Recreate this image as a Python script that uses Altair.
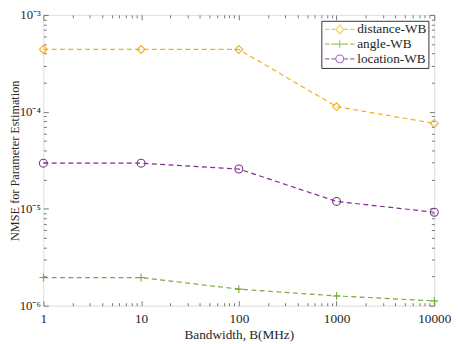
import altair as alt
import pandas as pd

# ---- data ----
bandwidth = [1, 10, 100, 1000, 10000]
series = ["distance-WB", "angle-WB", "location-WB"]
distance_wb = [4.4e-4, 4.4e-4, 4.4e-4, 1.13e-4, 7.6e-5]
angle_wb = [1.95e-6, 1.95e-6, 1.48e-6, 1.26e-6, 1.12e-6]
location_wb = [2.95e-5, 2.95e-5, 2.57e-5, 1.19e-5, 9.2e-6]
colors = ["#EDB120", "#77AC30", "#7E2F8E"]

x_major = [1, 10, 100, 1000, 10000]
x_minor = [m * 10 ** k for k in range(4) for m in range(2, 10)]
y_major = [1e-6, 1e-5, 1e-4, 1e-3]
y_minor = [m * 10.0 ** k for k in (-6, -5, -4) for m in range(2, 10)]

rows = []
for name, vals in zip(series, [distance_wb, angle_wb, location_wb]):
    for b, v in zip(bandwidth, vals):
        rows.append({"series": name, "B": b, "v": v})
df = pd.DataFrame(rows)

FONT = "Liberation Serif"
TXT = "#262626"
AX = "#555555"
W, H = 398, 296

xscale = alt.Scale(type="log", domain=[1, 10000], nice=False)
yscale = alt.Scale(type="log", domain=[1e-6, 1e-3], nice=False)
cscale = alt.Scale(domain=series, range=colors)
shape_scale = alt.Scale(domain=series, range=["diamond", "M-1,0H1M0,-1V1", "circle"])

ylabel_expr = ("datum.value > 5e-4 ? '10⁻³' : datum.value > 5e-5 ? '10⁻⁴' : "
               "datum.value > 5e-6 ? '10⁻⁵' : '10⁻⁶'")


def xaxis(orient, major):
    kw = dict(orient=orient, domain=False, grid=False, tickColor=AX, tickWidth=0.8)
    if major:
        kw.update(values=x_major, tickSize=5, offset=-5)
    else:
        kw.update(values=x_minor, tickSize=3, offset=-3)
    if orient == "bottom" and major:
        kw.update(labels=True, format="d", labelFont=FONT, labelFontSize=13.5,
                  labelColor=TXT, labelPadding=6, title="Bandwidth, B(MHz)",
                  titleFont=FONT, titleFontSize=13.5, titleFontWeight="normal",
                  titleColor=TXT, titlePadding=3, labelFlush=False)
    else:
        kw.update(labels=False, title=None)
    return alt.Axis(**kw)


def yaxis(orient, major):
    kw = dict(orient=orient, domain=False, grid=False, tickColor=AX, tickWidth=0.8)
    if major:
        kw.update(values=y_major, tickSize=5, offset=-5)
    else:
        kw.update(values=y_minor, tickSize=3, offset=-3)
    if orient == "left" and major:
        kw.update(labels=True, labelExpr=ylabel_expr, labelFont=FONT, labelFontSize=13,
                  labelColor=TXT, labelPadding=3, title="NMSE for Parameter Estimation",
                  titleFont=FONT, titleFontSize=12.5, titleFontWeight="normal",
                  titleColor=TXT, titleX=-34, titleY=H / 2, titleAngle=270,
                  titleBaseline="middle", titleAlign="center", labelFlush=False)
    else:
        kw.update(labels=False, title=None)
    return alt.Axis(**kw)


base = alt.Chart(df)

lines = base.mark_line(strokeDash=[5, 3.5], strokeWidth=1.2).encode(
    x=alt.X("B:Q", scale=xscale, axis=xaxis("bottom", True)),
    y=alt.Y("v:Q", scale=yscale, axis=yaxis("left", True)),
    color=alt.Color("series:N", scale=cscale, legend=None),
    detail="series:N",
)

points = base.mark_point(filled=False, size=64, strokeWidth=1.1, opacity=1).encode(
    x=alt.X("B:Q", scale=xscale, axis=xaxis("bottom", False)),
    y=alt.Y("v:Q", scale=yscale, axis=yaxis("left", False)),
    color=alt.Color("series:N", scale=cscale, legend=None),
    shape=alt.Shape("series:N", scale=shape_scale, legend=None),
)

sym_expr = (
    "datum.value == 'distance-WB' ? "
    "'M-1,0H-0.1M0.3,0H1.15M2,-0.9L2.8,0L2,0.9L1.2,0ZM2.85,0H3.7M4.1,0H5' : "
    "datum.value == 'angle-WB' ? "
    "'M-1,0H-0.1M0.3,0H3.7M4.1,0H5M2,-0.8V0.8' : "
    "'M-1,0H-0.1M0.3,0H1.2M2.8,0A0.8,0.8 0 1 1 1.2,0A0.8,0.8 0 1 1 2.8,0ZM2.8,0H3.7M4.1,0H5'"
)

legend_layer = base.mark_point(filled=False, strokeWidth=1.1).encode(
    x=alt.X("B:Q", scale=xscale, axis=xaxis("top", True)),
    y=alt.Y("v:Q", scale=yscale, axis=yaxis("right", True)),
    color=alt.Color(
        "series:N", scale=cscale,
        legend=alt.Legend(
            title=None, orient="top-right", offset=6,
            symbolType={"expr": sym_expr}, symbolSize=100, symbolStrokeWidth=1.1,
            labelFont=FONT, labelFontSize=13.5, labelColor=TXT, labelOffset=21,
            strokeColor="#333333", fillColor="white", padding=2, rowPadding=0,
            cornerRadius=0,
        ),
    ),
).transform_filter("false")

minor_tr = base.mark_point(opacity=0).encode(
    x=alt.X("B:Q", scale=xscale, axis=xaxis("top", False)),
    y=alt.Y("v:Q", scale=yscale, axis=yaxis("right", False)),
).transform_filter("false")

chart = alt.layer(lines, points, legend_layer, minor_tr).resolve_axis(
    x="independent", y="independent"
).resolve_legend(color="independent", shape="independent").properties(
    width=W, height=H,
    autosize=alt.AutoSizeParams(type="none"),
    padding={"left": 36, "top": 4, "right": 17, "bottom": 36},
).configure_view(stroke=AX, strokeWidth=1).configure(background="white")

chart.save("out.html", embed_options={"renderer": "svg", "actions": False})
